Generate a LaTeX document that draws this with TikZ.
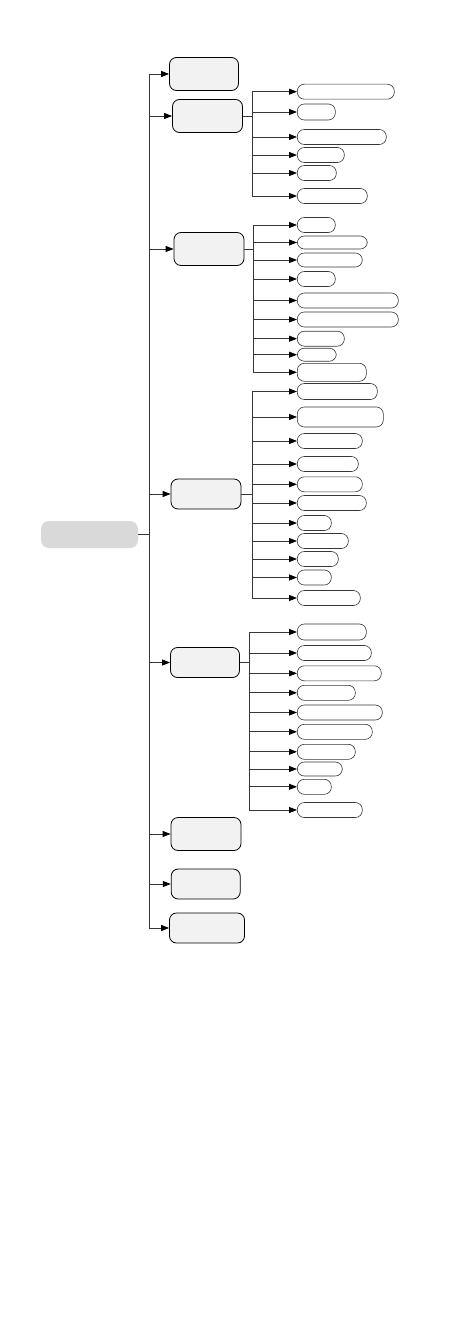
\documentclass[tikz,border=0pt]{standalone}
\usetikzlibrary{arrows.meta}
\definecolor{rootgray}{RGB}{217,217,217}
\definecolor{boxgray}{RGB}{242,242,242}
\definecolor{linegray}{RGB}{55,55,55}

\begin{document}
\begin{tikzpicture}[x=1pt,y=-1pt,
 link/.style={draw=linegray,line width=0.8pt,
 -{Triangle[length=8pt,width=6pt,color=black]}},
 rootbox/.style={fill=rootgray,rounded corners=8pt,minimum width=97pt,
 minimum height=27pt,inner sep=0pt},
 topic/.style={draw,fill=boxgray,line width=0.8pt,rounded corners=7pt,
 minimum width=70pt,minimum height=33pt,inner sep=0pt},
 leaf/.style={draw=linegray,fill=white,line width=0.6pt,rounded corners=7pt,
 anchor=west,minimum height=15pt,inner sep=0pt}]
\useasboundingbox (0,0) rectangle (458,1324);

\node[rootbox] (root) at (89.5,534.5) {};

\node[topic,minimum width=69pt] (t1) at (204,74) {};
\node[topic] (t2) at (207.5,116) {};
\node[topic] (t3) at (209,249) {};
\node[topic,minimum height=30pt] (t4) at (206,494) {};
\node[topic,minimum width=69pt,minimum height=30pt] (t5) at (205,662.5) {};
\node[topic] (t6) at (206,834) {};
\node[topic,minimum width=69pt,minimum height=30pt] (t7) at (205.7,884) {};
\node[topic,minimum width=75pt,minimum height=30pt] (t8) at (207,928) {};

\foreach \t in {t1,t2,t3,t4,t5,t6,t7,t8}
 \draw[link] (root.east) -- ++(11,0) |- (\t.west);

% second topic
\foreach \y/\w/\h [count=\i] in {91.7/97/15,112/38/16,137/89/15,155/47/15,
 173/39/15,196/70/15}
 {\node[leaf,minimum width=\w pt,minimum height=\h pt] (a\i) at (297,\y) {};
 \draw[link] (t2.east) -- ++(9,0) |- (a\i.west);}

% third topic
\foreach \y/\w/\h [count=\i] in {225/38/15,242.5/70/13,260/65/14,279/38/15,
 300.5/101/15,319.5/101/15,338.7/47/15,354.7/39/13,372.3/69/18}
 {\node[leaf,minimum width=\w pt,minimum height=\h pt] (b\i) at (297,\y) {};
 \draw[link] (t3.east) -- ++(9,0) |- (b\i.west);}

% fourth topic
\foreach \y/\w/\h [count=\i] in {391.5/80/16,417/86/20,441/65/15,464/61/15,
 484.3/65/15,503/69/15,523/34/15,541/51/15,559/41/15,577.5/34/15,598/63/15}
 {\node[leaf,minimum width=\w pt,minimum height=\h pt] (c\i) at (297,\y) {};
 \draw[link] (t4.east) -- ++(11,0) |- (c\i.west);}

% fifth topic
\foreach \y/\w/\h [count=\i] in {632/69/16,653/74/15,673.3/84/15,692.8/58/15,
 712.5/85/15,731.8/75/15,751.8/58/15,769/45/14,786.8/34/15,810/65/15}
 {\node[leaf,minimum width=\w pt,minimum height=\h pt] (d\i) at (297,\y) {};
 \draw[link] (t5.east) -- ++(9.6,0) |- (d\i.west);}
\end{tikzpicture}
\end{document}
